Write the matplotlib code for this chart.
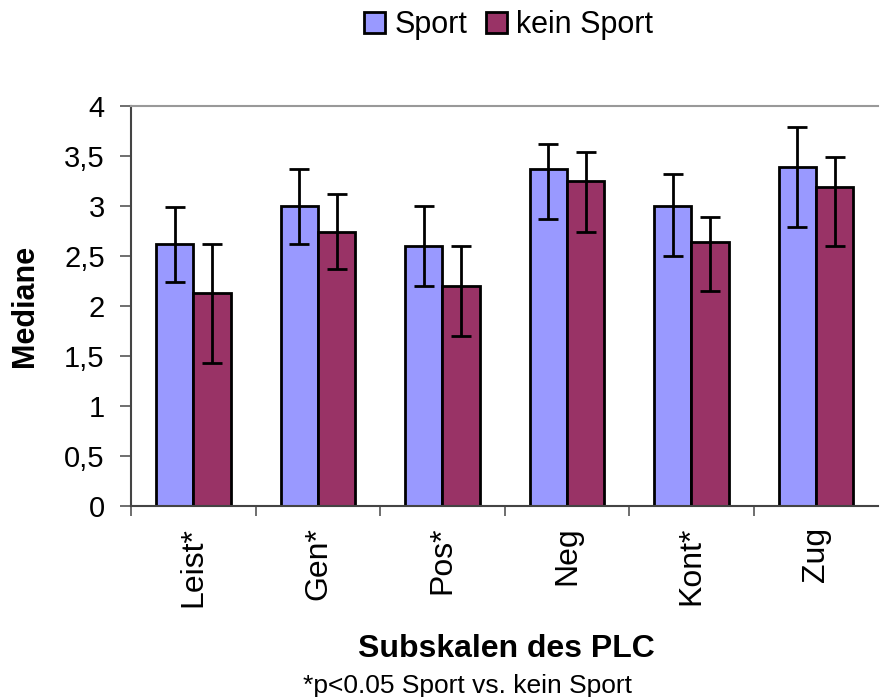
import matplotlib.pyplot as plt
import numpy as np

plt.rcParams['font.family'] = ['Liberation Sans', 'DejaVu Sans']

categories = ['Leist*', 'Gen*', 'Pos*', 'Neg', 'Kont*', 'Zug']
sport = [2.62, 3.00, 2.60, 3.37, 3.00, 3.39]
sport_low = [2.24, 2.62, 2.20, 2.87, 2.50, 2.79]
sport_high = [2.99, 3.37, 3.00, 3.62, 3.32, 3.79]
kein = [2.13, 2.74, 2.20, 3.25, 2.64, 3.19]
kein_low = [1.43, 2.37, 1.70, 2.74, 2.15, 2.60]
kein_high = [2.62, 3.12, 2.60, 3.54, 2.89, 3.49]
yticks = [0, 0.5, 1, 1.5, 2, 2.5, 3, 3.5, 4]
yticklabels = ['0', '0,5', '1', '1,5', '2', '2,5', '3', '3,5', '4']

fig = plt.figure(figsize=(8.8, 6.97), dpi=100)
ax = fig.add_axes([0.149, 0.274, 0.849, 0.574])

x = np.arange(len(categories))
w = 0.3
sport = np.array(sport)
kein = np.array(kein)
err_s = [sport - np.array(sport_low), np.array(sport_high) - sport]
err_k = [kein - np.array(kein_low), np.array(kein_high) - kein]

ax.bar(x - w / 2, sport, w, color='#9999FF', edgecolor='black', linewidth=2.0,
       label='Sport', yerr=err_s, capsize=7,
       error_kw=dict(elinewidth=2.0, capthick=2.0, ecolor='black'))
ax.bar(x + w / 2, kein, w, color='#993366', edgecolor='black', linewidth=2.0,
       label='kein Sport', yerr=err_k, capsize=7,
       error_kw=dict(elinewidth=2.0, capthick=2.0, ecolor='black'))

ax.set_xlim(-0.5, len(categories) - 0.5)
ax.set_ylim(0, 4)
ax.set_yticks(yticks)
ax.set_yticklabels(yticklabels, fontsize=21)

# category labels in the middle, tick marks at the group borders
ax.set_xticks(x)
ax.set_xticklabels(categories, rotation=90, fontsize=23, va='top')
ax.tick_params(axis='x', length=0, pad=15)
ax.set_xticks(np.arange(len(categories)) - 0.5, minor=True)
ax.tick_params(axis='x', which='minor', length=7, width=1.2, color='#555555')
ax.tick_params(axis='y', length=8, width=1.2, color='#555555', pad=11)

for side in ['left', 'bottom']:
    ax.spines[side].set_color('#444444')
    ax.spines[side].set_linewidth(1.5)
ax.spines['top'].set_color('#999999')
ax.spines['top'].set_linewidth(1.5)
ax.spines['right'].set_visible(False)

ax.set_ylabel('Mediane', fontsize=22, fontweight='bold')
ax.yaxis.set_label_coords(-0.122, 0.5)
fig.text(0.575, 0.058, 'Subskalen des PLC', fontsize=23, fontweight='bold', ha='center')
fig.text(0.531, 0.006, '*p<0.05 Sport vs. kein Sport', fontsize=19, ha='center')

fig.legend(loc='upper center', bbox_to_anchor=(0.578, 1.025), ncol=2, frameon=False,
           fontsize=22, handlelength=0.7, handleheight=0.7, handletextpad=0.3,
           columnspacing=0.6)

fig.savefig('out.png', dpi=100)
